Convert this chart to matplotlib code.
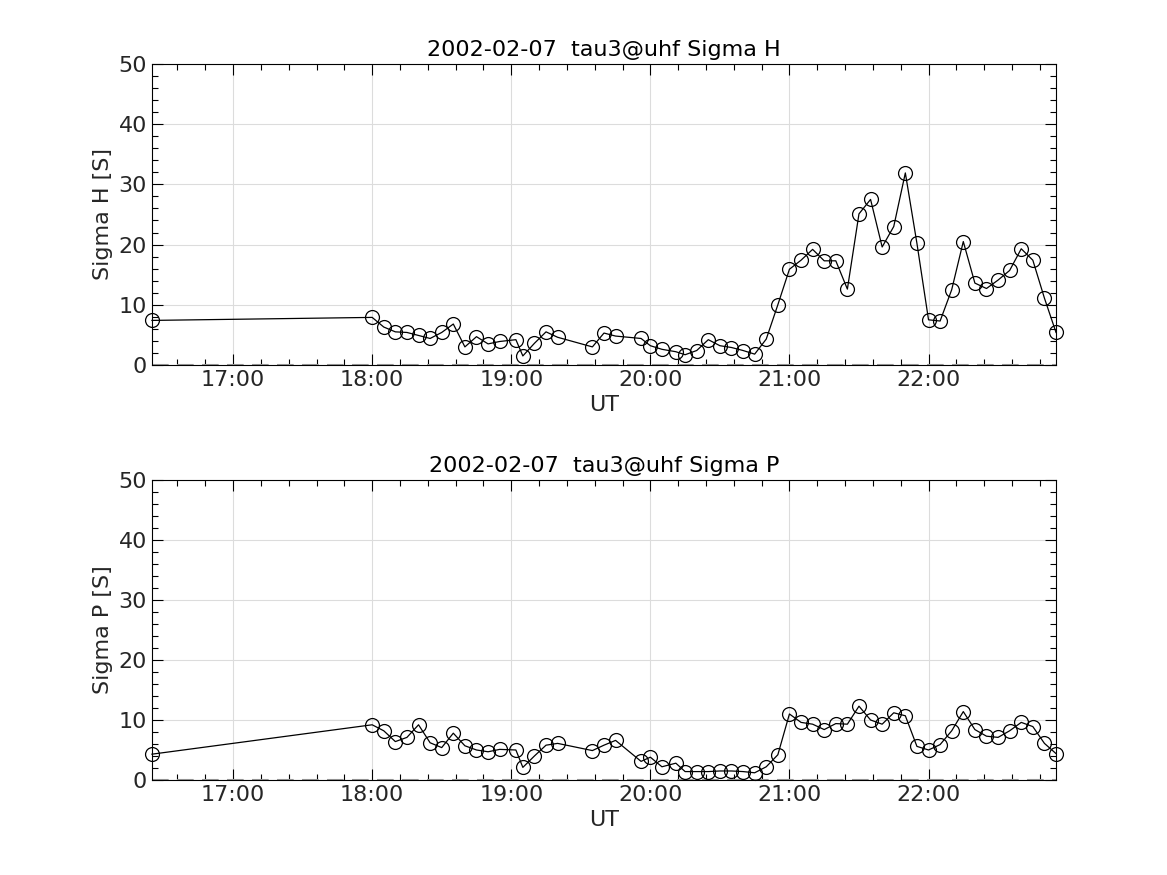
# Sigma H / Sigma P time series, 2002-02-07 tau3@uhf
import matplotlib.pyplot as plt
import matplotlib.dates as mdates
import pandas as pd
from matplotlib.ticker import MultipleLocator

# Data (UT times, conductances in S)
times = ["16:25", "18:00", "18:05", "18:10", "18:15", "18:20", "18:25", "18:30",
         "18:35", "18:40", "18:45", "18:50", "18:55", "19:02", "19:05", "19:10",
         "19:15", "19:20", "19:35", "19:40", "19:45", "19:56", "20:00", "20:05",
         "20:11", "20:15", "20:20", "20:25", "20:30", "20:35", "20:40", "20:45",
         "20:50", "20:55", "21:00", "21:05", "21:10", "21:15", "21:20", "21:25",
         "21:30", "21:35", "21:40", "21:45", "21:50", "21:55", "22:00", "22:05",
         "22:10", "22:15", "22:20", "22:25", "22:30", "22:35", "22:40", "22:45",
         "22:50", "22:55"]

sigma_h = [7.4, 7.9, 6.3, 5.5, 5.4, 4.9, 4.4, 5.4, 6.8, 3.0, 4.7, 3.5, 3.9, 4.2,
           1.5, 3.6, 5.5, 4.6, 3.0, 5.3, 4.8, 4.4, 3.2, 2.6, 2.2, 1.7, 2.4, 4.2,
           3.2, 2.9, 2.4, 1.8, 4.3, 10.0, 15.9, 17.4, 19.2, 17.3, 17.3, 12.6,
           25.1, 27.5, 19.6, 23.0, 31.9, 20.2, 7.5, 7.3, 12.5, 20.5, 13.6, 12.7,
           14.1, 15.7, 19.3, 17.4, 11.1, 5.4]

sigma_p = [4.3, 9.2, 8.2, 6.4, 7.1, 9.2, 6.2, 5.4, 7.8, 5.7, 5.0, 4.7, 5.1, 5.0,
           2.1, 4.0, 5.8, 6.1, 4.9, 5.8, 6.6, 3.1, 3.8, 2.2, 2.8, 1.4, 1.4, 1.4,
           1.5, 1.5, 1.4, 1.2, 2.2, 4.2, 11.0, 9.6, 9.3, 8.4, 9.4, 9.3, 12.3,
           10.0, 9.3, 11.2, 10.7, 5.6, 5.0, 5.9, 8.2, 11.4, 8.4, 7.3, 7.1, 8.2,
           9.6, 8.9, 6.1, 4.4]

t = pd.to_datetime(["2002-02-07 " + s for s in times])

plt.rcParams['font.family'] = 'DejaVu Sans'
fig = plt.figure(figsize=(11.67, 8.75), dpi=100)
ax1 = fig.add_axes([0.1302, 0.5829, 0.7747, 0.3440])
ax2 = fig.add_axes([0.1302, 0.1086, 0.7747, 0.3428])

panels = [(ax1, sigma_h, "Sigma H"), (ax2, sigma_p, "Sigma P")]
for ax, vals, name in panels:
    ax.axhline(0, color='0.6', ls=(0, (8, 4)), lw=1.5, zorder=1)
    ax.plot(t, vals, color='black', lw=0.9, marker='o', markersize=10,
            markerfacecolor='none', markeredgewidth=0.9, zorder=3,
            clip_on=False)
    ax.set_xlim(t[0], t[-1])
    ax.set_ylim(0, 50)
    ax.xaxis.set_major_locator(mdates.HourLocator())
    ax.xaxis.set_minor_locator(mdates.MinuteLocator(byminute=[12, 24, 36, 48]))
    ax.xaxis.set_major_formatter(mdates.DateFormatter('%H:%M'))
    ax.yaxis.set_major_locator(MultipleLocator(10))
    ax.yaxis.set_minor_locator(MultipleLocator(2))
    ax.grid(True, which='major', color='#dcdcdc', lw=0.8)
    ax.set_axisbelow(True)
    ax.tick_params(which='both', direction='in', top=True, right=True,
                   labelsize=16, labelcolor='#262626', width=0.8)
    ax.tick_params(which='major', length=8)
    ax.tick_params(which='minor', length=4)
    for sp in ax.spines.values():
        sp.set_linewidth(0.8)
    ax.set_xlabel("UT", fontsize=16, color='#262626')
    ax.set_ylabel(name + " [S]", fontsize=16, color='#262626')
    ax.set_title("2002-02-07  tau3@uhf " + name, fontsize=16)

fig.savefig("out.png", dpi=100)
